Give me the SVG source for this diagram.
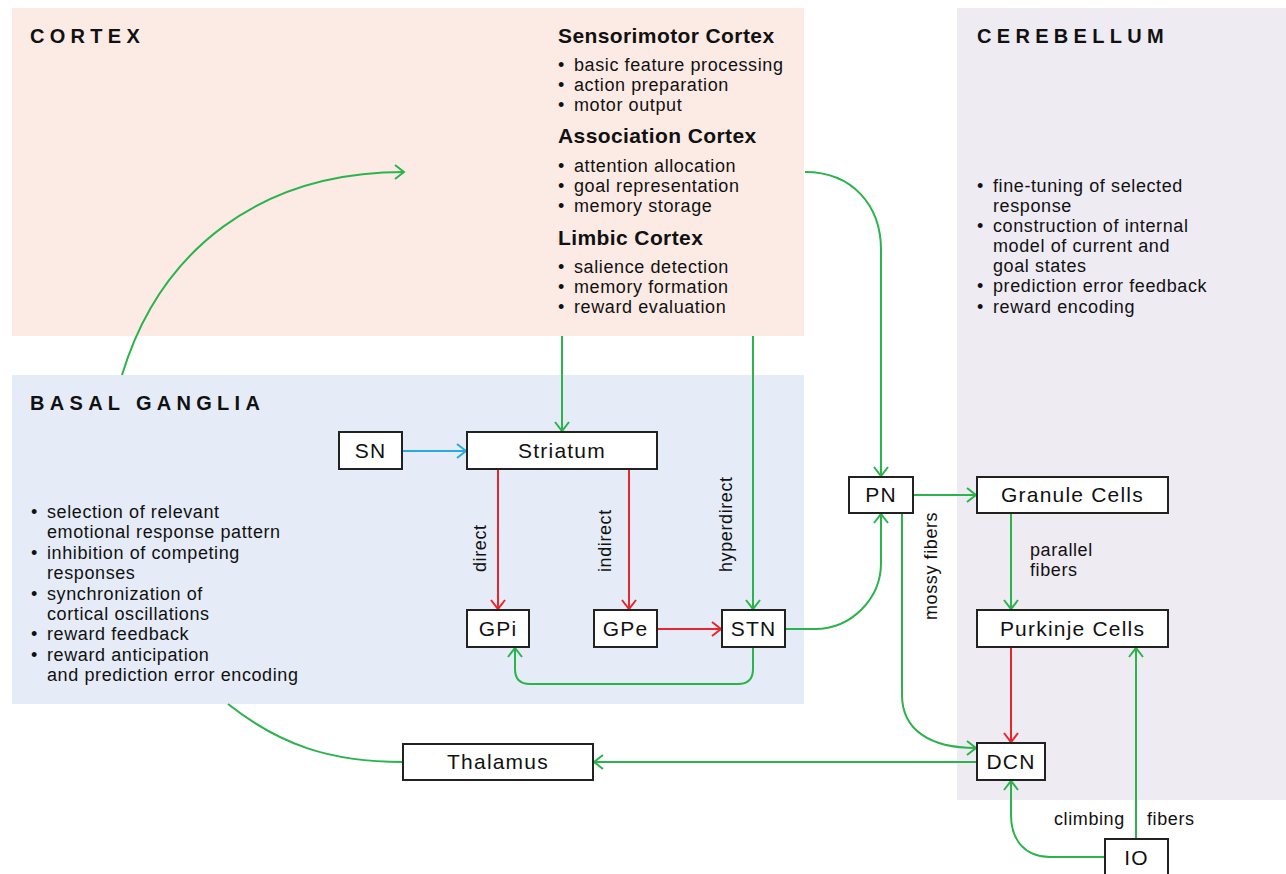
<svg xmlns="http://www.w3.org/2000/svg" width="1286" height="874" viewBox="0 0 1286 874">
<defs>
<style>
text{font-family:"Liberation Sans",Arial,sans-serif;fill:#111;}
.title{font-size:20px;font-weight:700;letter-spacing:5.3px;}
.head{font-size:21px;font-weight:700;letter-spacing:0.4px;}
.body{font-size:18px;letter-spacing:0.6px;}
.node rect{fill:#fff;stroke:#222;stroke-width:2;}
.node text{font-size:21px;letter-spacing:1.2px;text-anchor:middle;}
.g{stroke:#2bb34c;stroke-width:2;fill:none;}
.r{stroke:#e8262d;stroke-width:2;fill:none;}
.b{stroke:#2aa9e0;stroke-width:2;fill:none;}
</style>
<marker id="ag" markerUnits="userSpaceOnUse" markerWidth="14" markerHeight="18" refX="10" refY="8" orient="auto"><path d="M1,1 L10,8 L1,15" fill="none" stroke="#2bb34c" stroke-width="2"/></marker>
<marker id="ar" markerUnits="userSpaceOnUse" markerWidth="14" markerHeight="18" refX="10" refY="8" orient="auto"><path d="M1,1 L10,8 L1,15" fill="none" stroke="#e8262d" stroke-width="2"/></marker>
<marker id="ab" markerUnits="userSpaceOnUse" markerWidth="14" markerHeight="18" refX="10" refY="8" orient="auto"><path d="M1,1 L10,8 L1,15" fill="none" stroke="#2aa9e0" stroke-width="2"/></marker>
</defs>
<rect width="1286" height="874" fill="#fff"/>

<g id="cortex-panel">
<rect x="12" y="8" width="792" height="328" fill="#fcebe5"/>
<text class="title" x="30" y="43">CORTEX</text>
<text class="head" x="558" y="43">Sensorimotor Cortex</text>
<text class="body" x="558" y="71">•</text><text class="body" x="574" y="71">basic feature processing</text>
<text class="body" x="558" y="91">•</text><text class="body" x="574" y="91">action preparation</text>
<text class="body" x="558" y="111">•</text><text class="body" x="574" y="111">motor output</text>
<text class="head" x="558" y="143">Association Cortex</text>
<text class="body" x="558" y="172">•</text><text class="body" x="574" y="172">attention allocation</text>
<text class="body" x="558" y="192">•</text><text class="body" x="574" y="192">goal representation</text>
<text class="body" x="558" y="212">•</text><text class="body" x="574" y="212">memory storage</text>
<text class="head" x="558" y="245">Limbic Cortex</text>
<text class="body" x="558" y="273">•</text><text class="body" x="574" y="273">salience detection</text>
<text class="body" x="558" y="293">•</text><text class="body" x="574" y="293">memory formation</text>
<text class="body" x="558" y="313">•</text><text class="body" x="574" y="313">reward evaluation</text>
</g>

<g id="cerebellum-panel">
<rect x="957" y="8" width="329" height="792" fill="#eeebf3"/>
<text class="title" x="977" y="43">CEREBELLUM</text>
<text class="body" x="977" y="192">•</text><text class="body" x="993" y="192">fine-tuning of selected</text>
<text class="body" x="993" y="212">response</text>
<text class="body" x="977" y="232">•</text><text class="body" x="993" y="232">construction of internal</text>
<text class="body" x="993" y="252">model of current and</text>
<text class="body" x="993" y="272">goal states</text>
<text class="body" x="977" y="292">•</text><text class="body" x="993" y="292">prediction error feedback</text>
<text class="body" x="977" y="313">•</text><text class="body" x="993" y="313">reward encoding</text>
</g>

<g id="basal-ganglia-panel">
<rect x="12" y="375" width="792" height="329" fill="#e6ecf7"/>
<text class="title" x="30" y="410">BASAL GANGLIA</text>
<text class="body" x="31" y="518">•</text><text class="body" x="47" y="518">selection of relevant</text>
<text class="body" x="47" y="538">emotional response pattern</text>
<text class="body" x="31" y="559">•</text><text class="body" x="47" y="559">inhibition of competing</text>
<text class="body" x="47" y="579">responses</text>
<text class="body" x="31" y="600">•</text><text class="body" x="47" y="600">synchronization of</text>
<text class="body" x="47" y="620">cortical oscillations</text>
<text class="body" x="31" y="640">•</text><text class="body" x="47" y="640">reward feedback</text>
<text class="body" x="31" y="661">•</text><text class="body" x="47" y="661">reward anticipation</text>
<text class="body" x="47" y="681">and prediction error encoding</text>
</g>

<g id="connectors">
<path class="g" d="M122,375 C160,250 260,172 404,172" marker-end="url(#ag)"/>
<path class="g" d="M228,704 C280,745 330,762 403,762"/>
<path class="g" d="M562,336 V431" marker-end="url(#ag)"/>
<path class="g" d="M753,336 V609" marker-end="url(#ag)"/>
<path class="b" d="M402,451 H466" marker-end="url(#ab)"/>
<path class="r" d="M498,469 V609" marker-end="url(#ar)"/>
<path class="r" d="M629,469 V609" marker-end="url(#ar)"/>
<path class="r" d="M657,629 H721" marker-end="url(#ar)"/>
<path class="g" d="M753,647 V669 Q753,684 738,684 H530 Q515,684 515,669 V648" marker-end="url(#ag)"/>
<path class="g" d="M785,629 H815 C851,629 881,599 881,563 V514" marker-end="url(#ag)"/>
<path class="g" d="M805,172 C852,172 881,205 881,250 V476" marker-end="url(#ag)"/>
<path class="g" d="M913,495 H976" marker-end="url(#ag)"/>
<path class="g" d="M1011,513 V609" marker-end="url(#ag)"/>
<path class="g" d="M902,513 V695 C902,730 930,748 976,748" marker-end="url(#ag)"/>
<path class="r" d="M1011,647 V742" marker-end="url(#ar)"/>
<path class="g" d="M977,762 H594" marker-end="url(#ag)"/>
<path class="g" d="M1105,857 H1050 C1025,857 1011,840 1011,815 V781" marker-end="url(#ag)"/>
<path class="g" d="M1136,839 V648" marker-end="url(#ag)"/>
<text class="body" transform="translate(486,572) rotate(-90)">direct</text>
<text class="body" transform="translate(611,572) rotate(-90)">indirect</text>
<text class="body" transform="translate(732,572) rotate(-90)">hyperdirect</text>
<text class="body" transform="translate(937,620) rotate(-90)">mossy fibers</text>
<text class="body" x="1030" y="556">parallel</text>
<text class="body" x="1030" y="576">fibers</text>
<text class="body" x="1054" y="825">climbing</text>
<text class="body" x="1147" y="825">fibers</text>
</g>

<g id="SN" class="node"><rect x="339" y="432" width="63" height="37"/><text x="370.5" y="458">SN</text></g>
<g id="Striatum" class="node"><rect x="467" y="432" width="190" height="37"/><text x="562" y="458">Striatum</text></g>
<g id="GPi" class="node"><rect x="467" y="610" width="62" height="37"/><text x="498" y="636">GPi</text></g>
<g id="GPe" class="node"><rect x="594" y="610" width="63" height="37"/><text x="625.5" y="636">GPe</text></g>
<g id="STN" class="node"><rect x="722" y="610" width="63" height="37"/><text x="753.5" y="636">STN</text></g>
<g id="PN" class="node"><rect x="849" y="477" width="64" height="36"/><text x="881" y="502">PN</text></g>
<g id="GranuleCells" class="node"><rect x="977" y="477" width="191" height="36"/><text x="1072.5" y="502">Granule Cells</text></g>
<g id="PurkinjeCells" class="node"><rect x="977" y="610" width="191" height="37"/><text x="1072.5" y="636">Purkinje Cells</text></g>
<g id="DCN" class="node"><rect x="977" y="743" width="68" height="37"/><text x="1011" y="769">DCN</text></g>
<g id="Thalamus" class="node"><rect x="403" y="744" width="190" height="36"/><text x="498" y="769">Thalamus</text></g>
<g id="IO" class="node"><rect x="1105" y="839" width="63" height="38"/><text x="1136.5" y="865">IO</text></g>
</svg>
